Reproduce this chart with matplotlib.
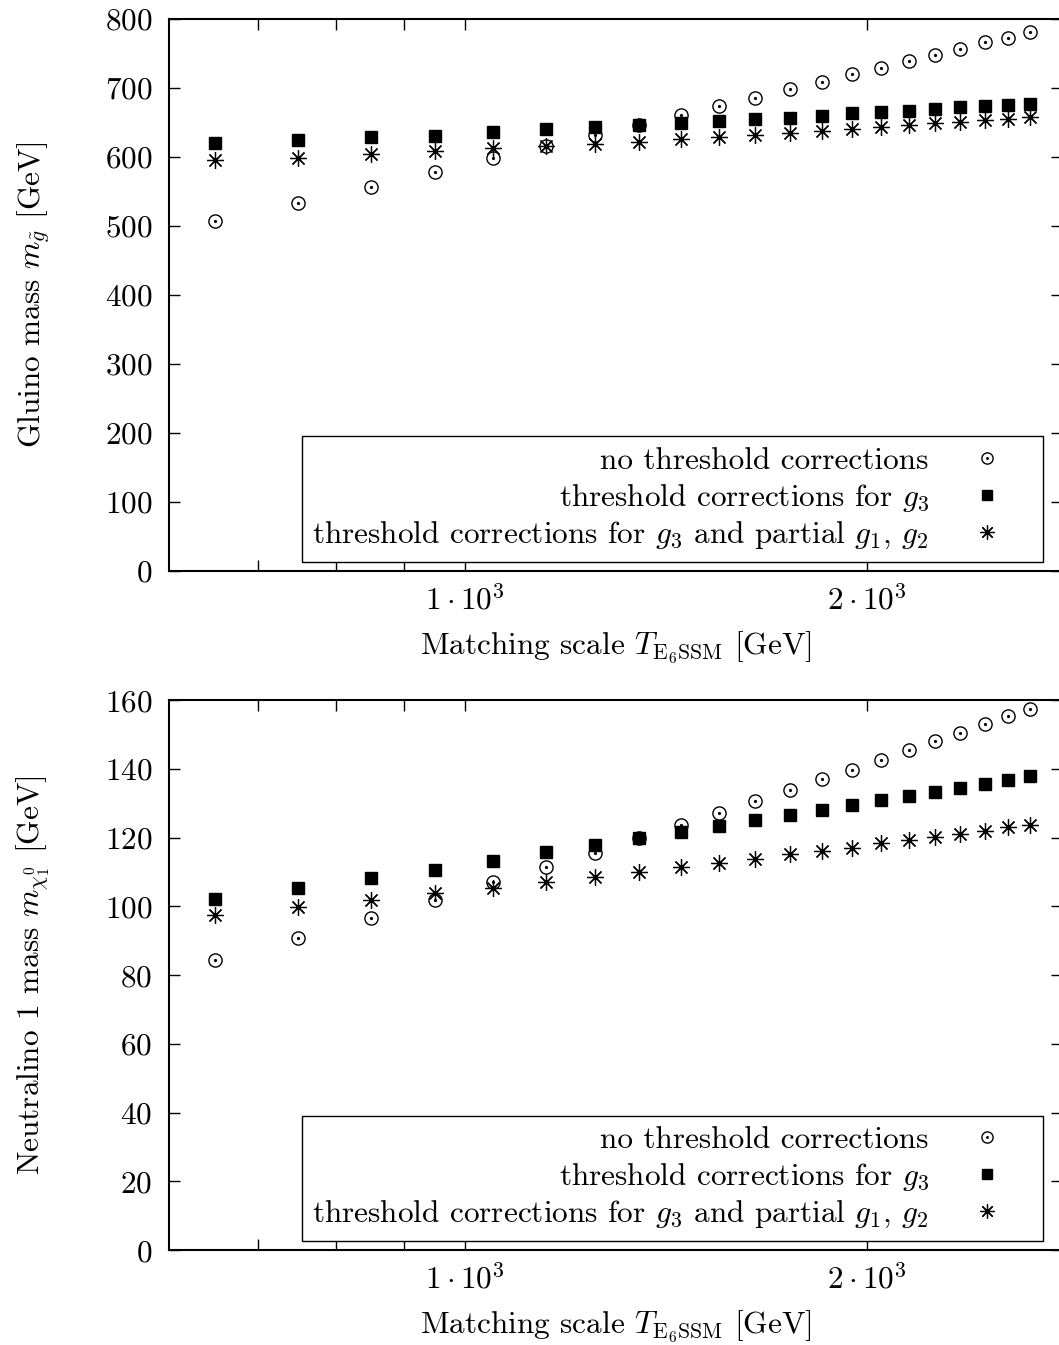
import matplotlib
matplotlib.use('Agg')
from matplotlib import pyplot as plt
from matplotlib.ticker import FixedLocator, FixedFormatter, NullLocator

plt.rcParams['font.family'] = 'cmr10'
plt.rcParams['mathtext.fontset'] = 'cm'
plt.rcParams['axes.formatter.use_mathtext'] = True
plt.rcParams['font.size'] = 22.5

# matching scale [GeV]
scale = [650, 750, 850, 950, 1050, 1150, 1250, 1350, 1450, 1550, 1650,
         1750, 1850, 1950, 2050, 2150, 2250, 2350, 2450, 2550, 2650]

# gluino mass [GeV]
gluino_none = [507, 534, 557, 578, 598, 616, 632, 646, 661, 674, 686,
               698, 709, 720, 729, 739, 748, 757, 766, 773, 781]
gluino_g3 = [620, 624, 629, 631, 636, 640, 643, 646, 649, 652, 655,
             657, 660, 663, 665, 667, 670, 672, 674, 675, 677]
gluino_g123 = [596, 599, 604, 608, 613, 616, 619, 622, 626, 629, 632,
               635, 638, 641, 644, 646, 649, 651, 653, 655, 658]

# neutralino 1 mass [GeV]
neut_none = [84.4, 90.8, 96.6, 101.8, 107.1, 111.4, 115.6, 119.8, 123.6, 127.1, 130.5,
             133.8, 136.9, 139.8, 142.6, 145.4, 148.0, 150.5, 152.9, 155.3, 157.5]
neut_g3 = [102.0, 105.2, 108.1, 110.7, 113.3, 115.7, 117.7, 119.8, 121.6, 123.3, 125.0,
           126.5, 127.9, 129.4, 130.8, 132.1, 133.2, 134.3, 135.5, 136.7, 137.8]
neut_g123 = [97.6, 99.7, 101.8, 103.8, 105.3, 107.0, 108.4, 109.9, 111.3, 112.6, 113.8,
             115.1, 116.2, 117.1, 118.3, 119.2, 120.1, 121.1, 122.0, 123.0, 123.7]

labels = ['no threshold corrections',
          r'threshold corrections for $g_3$',
          r'threshold corrections for $g_3$ and partial $g_1$, $g_2$']

xticks = [700, 800, 900, 1000, 2000]
xticklabels = ['', '', '', r'$1\cdot10^3$', r'$2\cdot10^3$']
xlabel = r'Matching scale $T_{\mathrm{E_6SSM}}$ [GeV]'

fig = plt.figure(figsize=(10.59, 13.45), dpi=100)
ax1 = fig.add_axes([0.1596, 0.5755, 0.8433, 0.4104])
ax2 = fig.add_axes([0.1596, 0.0706, 0.8433, 0.4089])


def draw(ax, none, g3, g123, ylim, yticks, ylabel):
    c, = ax.plot(scale, none, ls='none', marker='o', ms=9.5, mfc='none',
                 mec='black', mew=1.0)
    d, = ax.plot(scale, none, ls='none', marker='o', ms=1.3, color='black')
    s, = ax.plot(scale, g3, ls='none', marker='s', ms=8.6, color='black')
    a, = ax.plot(scale, g123, ls='none', marker=(8, 2, 0), ms=12,
                 mew=0.9, color='black')
    ax.set_xscale('log')
    ax.set_xlim(600, 2800)
    ax.set_ylim(*ylim)
    ax.xaxis.set_major_locator(FixedLocator(xticks))
    ax.xaxis.set_major_formatter(FixedFormatter(xticklabels))
    ax.xaxis.set_minor_locator(NullLocator())
    ax.set_yticks(yticks)
    ax.tick_params(direction='in', length=8, width=1, top=True, right=True)
    ax.tick_params(axis='y', pad=12)
    ax.tick_params(axis='x', pad=10)
    for sp in ax.spines.values():
        sp.set_linewidth(1.5)
    ax.set_xlabel(xlabel)
    ax.xaxis.set_label_coords(0.5, -0.106)
    ax.set_ylabel(ylabel)
    ax.yaxis.set_label_coords(-0.131, 0.5)
    leg = ax.legend([(c, d), s, a], labels, loc='lower right',
                    bbox_to_anchor=(0.9787, 0.0163), borderaxespad=0,
                    markerfirst=False, fancybox=False, framealpha=1,
                    edgecolor='black', markerscale=0.85, handlelength=2.9,
                    handletextpad=0.4, labelspacing=0.2, borderpad=0.35)
    leg.get_frame().set_linewidth(1.0)


draw(ax1, gluino_none, gluino_g3, gluino_g123, (0, 800),
     [0, 100, 200, 300, 400, 500, 600, 700, 800],
     r'Gluino mass $m_{\tilde{g}}$ [GeV]')
draw(ax2, neut_none, neut_g3, neut_g123, (0, 160),
     [0, 20, 40, 60, 80, 100, 120, 140, 160],
     r'Neutralino 1 mass $m_{\chi_1^0}$ [GeV]')

fig.savefig('out.png', dpi=100)
